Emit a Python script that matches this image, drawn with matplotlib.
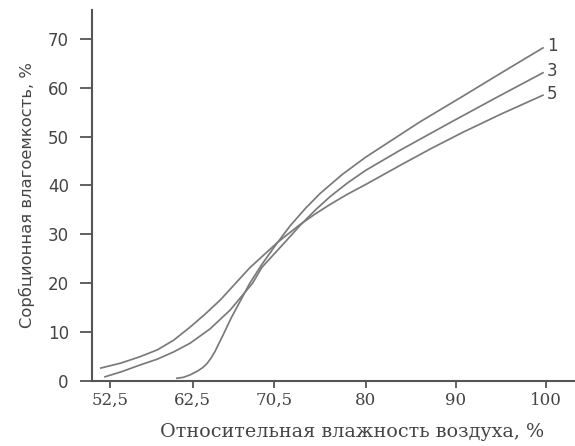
import numpy as np
import matplotlib
matplotlib.use('Agg')
import matplotlib.pyplot as plt

# humidity ticks (non-uniform spacing on the original axis)
tick_vals = [52.5, 62.5, 70.5, 80, 90, 100]
tick_labels = ['52,5', '62,5', '70,5', '80', '90', '100']
y_ticks = [0, 10, 20, 30, 40, 50, 60, 70]

# curves: relative humidity, %  ->  sorption capacity, %
x1 = [60.6, 61.4, 62.2, 63.0, 63.5, 63.9, 64.3, 64.7, 65.5, 66.3, 67.2, 68.1, 69.3, 70.6, 72.2,
      73.8, 75.3, 77.6, 80.0, 83.0, 86.0, 90.8, 95.0, 99.7]
y1 = [0.5, 0.7, 1.2, 2.0, 2.7, 3.5, 4.6, 6.0, 9.4, 12.9, 16.4, 19.9, 23.8, 27.6, 31.8,
      35.4, 38.4, 42.3, 45.8, 49.4, 53.0, 58.3, 63.0, 68.2]

x3 = [51.9, 54.0, 56.1, 58.2, 60.2, 62.2, 64.2, 66.2, 68.4, 69.3, 71.6, 73.2, 74.8, 76.3,
      78.1, 80.0, 83.8, 89.4, 94.5, 99.7]
y3 = [0.8, 1.9, 3.2, 4.4, 5.9, 7.7, 10.6, 14.5, 20.0, 23.2, 28.3, 31.8, 35.0, 37.7,
      40.5, 43.1, 47.2, 52.9, 58.0, 63.1]

x5 = [51.4, 53.8, 56.1, 58.2, 60.2, 62.2, 63.7, 65.2, 68.1, 70.9, 73.2, 74.8, 76.3, 78.1,
      80.0, 83.8, 87.3, 90.8, 95.0, 99.7]
y5 = [2.6, 3.6, 4.9, 6.3, 8.3, 11.0, 13.6, 16.5, 23.1, 28.4, 32.0, 34.2, 36.1, 38.2,
      40.2, 44.1, 47.6, 50.9, 54.6, 58.5]

curve_names = ['1', '3', '5']

# piecewise-linear axis: every tick interval gets its own width
knot_h = [40, 52.5, 62.5, 70.5, 80, 90, 100, 120]
knot_p = [6.6, 110, 192.7, 274, 365.7, 455.7, 545.7, 725.7]

def fwd(h):
    return np.interp(h, knot_h, knot_p)

def inv(p):
    return np.interp(p, knot_p, knot_h)

fig = plt.figure(figsize=(5.75, 4.46), dpi=100)
ax = fig.add_axes([91.7/575, (446-380.7)/446, (575-91.7)/575, (380.7-10)/446])
ax.set_xscale('function', functions=(fwd, inv))

line_col = '#7a7a7a'
for xs, ys, name in zip([x1, x3, x5], [y1, y3, y5], curve_names):
    ax.plot(xs, ys, color=line_col, lw=1.25)
    ax.annotate(name, (xs[-1], ys[-1]), xytext=(3, 1), textcoords='offset points',
                ha='left', va='center', fontsize=12, color='#444444', family='DejaVu Sans')

ax.set_xlim(50.29, 103.26)
ax.set_ylim(0, 75.96)
ax.set_xticks(tick_vals)
ax.set_xticklabels(tick_labels, family='DejaVu Serif', fontsize=12, color='#444444')
ax.set_yticks(y_ticks)
ax.set_yticklabels([str(v) for v in y_ticks], family='DejaVu Sans', fontsize=12, color='#444444')
ax.minorticks_off()

for s in ['top', 'right']:
    ax.spines[s].set_visible(False)
for s in ['left', 'bottom']:
    ax.spines[s].set_color('#555555')
    ax.spines[s].set_linewidth(1.5)
ax.tick_params(axis='x', direction='out', length=5, width=1.3, color='#555555', pad=3)
ax.tick_params(axis='y', direction='out', length=8.5, width=1.3, color='#555555', pad=8)

ax.set_xlabel('Относительная влажность воздуха, %', family='DejaVu Serif',
              fontsize=13.8, color='#444444')
ax.xaxis.set_label_coords(0.539, -0.115)
ax.set_ylabel('Сорбционная влагоемкость, %', family='DejaVu Sans',
              fontsize=11.8, color='#444444', labelpad=9)

fig.savefig('out.png', dpi=100)
